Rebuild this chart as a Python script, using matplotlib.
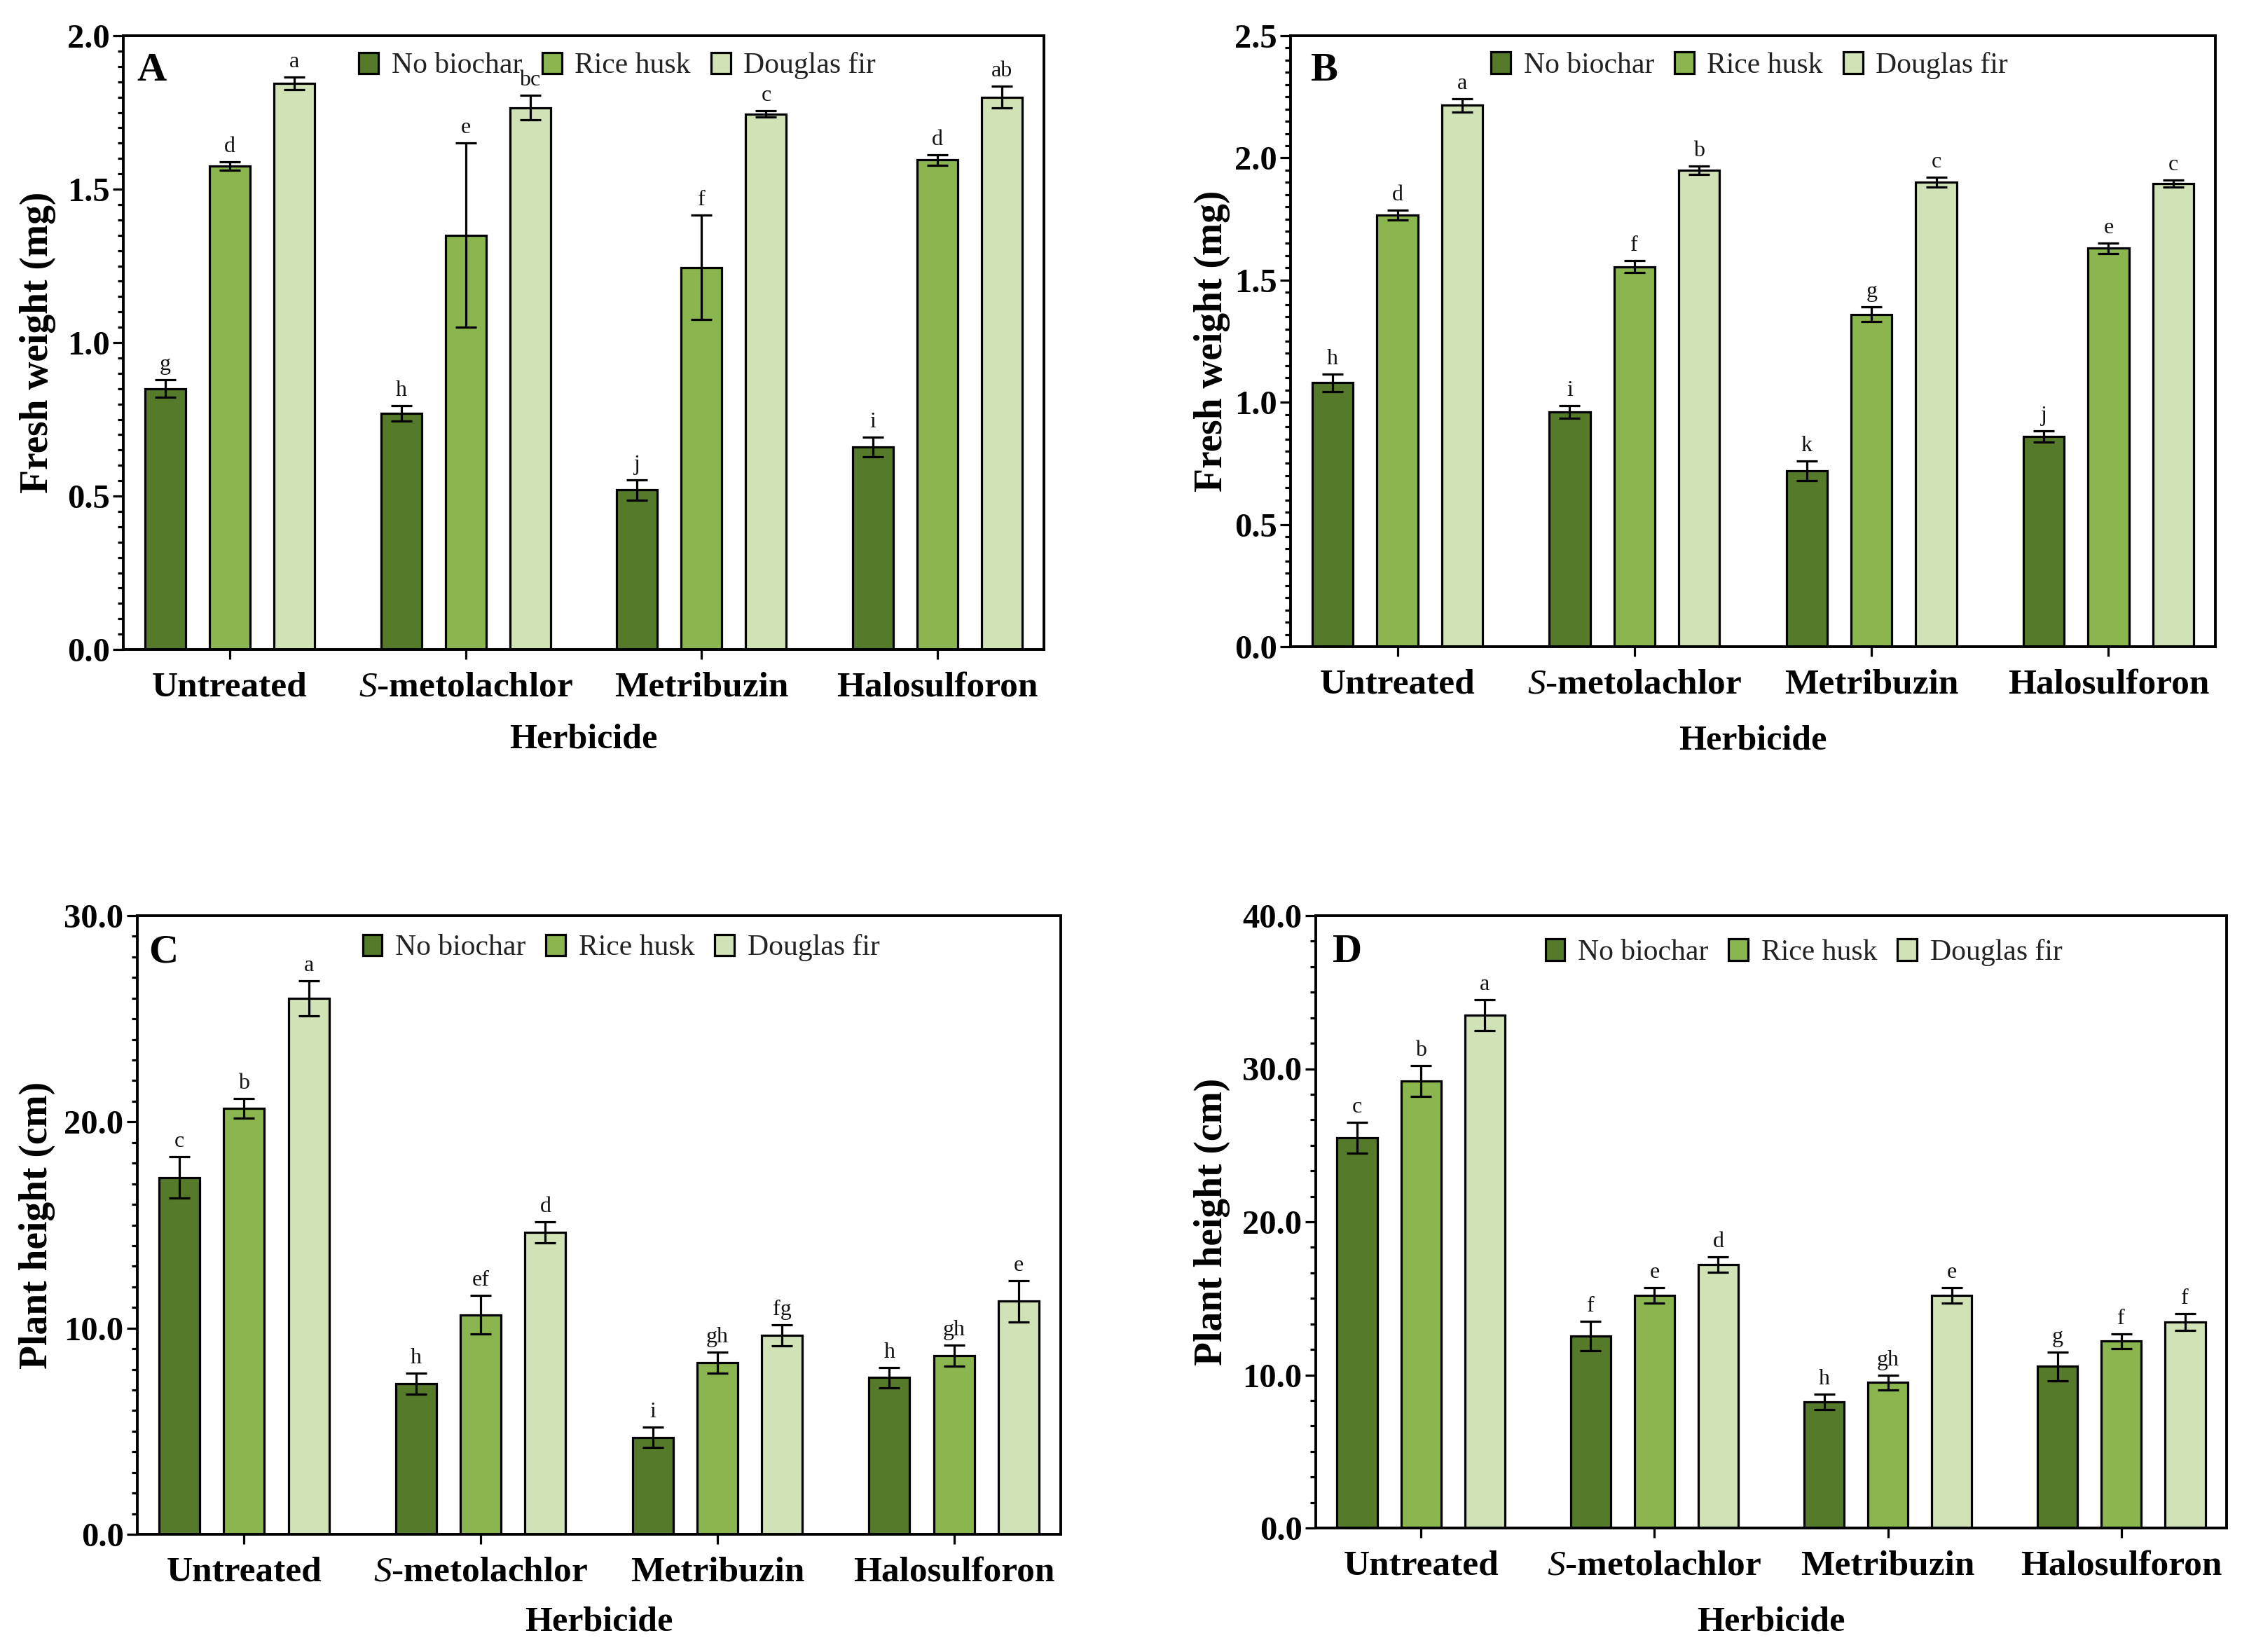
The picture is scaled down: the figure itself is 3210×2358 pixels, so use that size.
import numpy as np
import matplotlib
matplotlib.use("Agg")
import matplotlib.pyplot as plt
from matplotlib.ticker import MultipleLocator, AutoMinorLocator, FormatStrFormatter
from matplotlib.patches import Patch

plt.rcParams['font.family'] = ['Liberation Serif', 'DejaVu Serif']
plt.rcParams['mathtext.fontset'] = 'custom'
plt.rcParams['mathtext.rm'] = 'Liberation Serif:bold'
plt.rcParams['mathtext.it'] = 'Liberation Serif:italic'

# ---------------- data ----------------
herbicides = ['Untreated', r'$\mathit{S}$-metolachlor', 'Metribuzin', 'Halosulforon']
series = ['No biochar', 'Rice husk', 'Douglas fir']

# Panel A: fresh weight (mg)
A_no = [0.85, 0.77, 0.52, 0.66]
A_rice = [1.575, 1.35, 1.245, 1.595]
A_doug = [1.845, 1.765, 1.745, 1.80]
A_no_err = [0.028, 0.025, 0.033, 0.032]
A_rice_err = [0.013, 0.30, 0.17, 0.018]
A_doug_err = [0.02, 0.04, 0.01, 0.035]
A_letters = [['g', 'h', 'j', 'i'], ['d', 'e', 'f', 'd'], ['a', 'bc', 'c', 'ab']]

# Panel B: fresh weight (mg)
B_no = [1.08, 0.96, 0.72, 0.86]
B_rice = [1.765, 1.555, 1.36, 1.63]
B_doug = [2.215, 1.95, 1.90, 1.895]
B_no_err = [0.035, 0.025, 0.04, 0.022]
B_rice_err = [0.02, 0.025, 0.03, 0.022]
B_doug_err = [0.027, 0.018, 0.02, 0.014]
B_letters = [['h', 'i', 'k', 'j'], ['d', 'f', 'g', 'e'], ['a', 'b', 'c', 'c']]

# Panel C: plant height (cm)
C_no = [17.3, 7.3, 4.7, 7.6]
C_rice = [20.66, 10.65, 8.33, 8.67]
C_doug = [26.0, 14.65, 9.65, 11.3]
C_no_err = [1.0, 0.5, 0.5, 0.5]
C_rice_err = [0.48, 0.95, 0.5, 0.5]
C_doug_err = [0.85, 0.5, 0.5, 1.0]
C_letters = [['c', 'h', 'i', 'h'], ['b', 'ef', 'gh', 'gh'], ['a', 'd', 'fg', 'e']]

# Panel D: plant height (cm)
D_no = [25.5, 12.55, 8.25, 10.55]
D_rice = [29.2, 15.2, 9.5, 12.2]
D_doug = [33.5, 17.2, 15.2, 13.45]
D_no_err = [1.0, 0.95, 0.5, 0.95]
D_rice_err = [1.0, 0.5, 0.5, 0.5]
D_doug_err = [1.0, 0.5, 0.5, 0.55]
D_letters = [['c', 'f', 'h', 'g'], ['b', 'e', 'gh', 'f'], ['a', 'd', 'e', 'f']]

colors = ['#557A2A', '#8BB54F', '#D1E2B6']

# ---------------- layout ----------------
W, H = 3210, 2358
fig = plt.figure(figsize=(W / 100, H / 100), dpi=100)


def rect(l, t, r, b):
    return [l / W, 1 - b / H, (r - l) / W, (b - t) / H]


panels = [
    dict(rect=rect(176, 51, 1490, 927), label='A', ylabel='Fresh weight (mg)',
         vals=[A_no, A_rice, A_doug], errs=[A_no_err, A_rice_err, A_doug_err],
         letters=A_letters, ymax=2.0, major=0.5, nminor=10,
         leg=(0.256, 0.951), ylab_off=122, xlab_off=128, lab_off=(19, -64)),
    dict(rect=rect(1842, 51, 3162, 923), label='B', ylabel='Fresh weight (mg)',
         vals=[B_no, B_rice, B_doug], errs=[B_no_err, B_rice_err, B_doug_err],
         letters=B_letters, ymax=2.5, major=0.5, nminor=10,
         leg=(0.217, 0.951), ylab_off=112, xlab_off=135, lab_off=(28, -64)),
    dict(rect=rect(196, 1307, 1514, 2190), label='C', ylabel='Plant height (cm)',
         vals=[C_no, C_rice, C_doug], errs=[C_no_err, C_rice_err, C_doug_err],
         letters=C_letters, ymax=30.0, major=10, nminor=10,
         leg=(0.244, 0.948), ylab_off=143, xlab_off=125, lab_off=(16, -66)),
    dict(rect=rect(1878, 1307, 3178, 2181), label='D', ylabel='Plant height (cm)',
         vals=[D_no, D_rice, D_doug], errs=[D_no_err, D_rice_err, D_doug_err],
         letters=D_letters, ymax=40.0, major=10, nminor=6,
         leg=(0.252, 0.94), ylab_off=148, xlab_off=134, lab_off=(24, -66)),
]

G = 3.66
bw = 0.63
centers = np.arange(len(herbicides)) * G
lw = 2.3

for p in panels:
    ax = fig.add_axes(p['rect'])
    axw = p['rect'][2] * W
    axh = p['rect'][3] * H
    for k in range(3):
        xs = centers + (k - 1) * 1.0
        ax.bar(xs, p['vals'][k], width=bw, color=colors[k], edgecolor='black',
               linewidth=lw, zorder=2)
        ax.errorbar(xs, p['vals'][k], yerr=p['errs'][k], fmt='none', ecolor='black',
                    elinewidth=lw, capsize=11, capthick=lw, zorder=3)
        for x, v, e, t in zip(xs, p['vals'][k], p['errs'][k], p['letters'][k]):
            ax.annotate(t, xy=(x, v + e), xytext=(0, 7), textcoords='offset pixels',
                        ha='center', va='bottom', fontsize=23, color='#111111')
    ax.set_xlim(-1.65, centers[-1] + 1.65)
    ax.set_ylim(0, p['ymax'])
    ax.set_xticks(centers)
    ax.set_xticklabels(herbicides, fontsize=37, fontweight='bold')
    ax.yaxis.set_major_locator(MultipleLocator(p['major']))
    ax.yaxis.set_minor_locator(AutoMinorLocator(p['nminor']))
    ax.yaxis.set_major_formatter(FormatStrFormatter('%.1f'))
    for lbl in ax.get_yticklabels():
        lbl.set_fontsize(35)
        lbl.set_fontweight('bold')
    ax.tick_params(axis='y', which='major', length=11, width=2.3, pad=3)
    ax.tick_params(axis='y', which='minor', length=6, width=2.3)
    ax.tick_params(axis='x', which='major', length=10, width=2.3, pad=13)
    ax.tick_params(top=False, right=False)
    for s in ax.spines.values():
        s.set_linewidth(2.8)
    ax.set_ylabel(p['ylabel'], fontsize=40, fontweight='bold')
    ax.yaxis.label.set_va('center')
    ax.yaxis.set_label_coords(-p['ylab_off'] / axw, 0.5)
    ax.set_xlabel('Herbicide', fontsize=36, fontweight='bold')
    ax.xaxis.label.set_va('center')
    ax.xaxis.set_label_coords(0.5, -p['xlab_off'] / axh)
    ax.annotate(p['label'], xy=(0, 1), xycoords='axes fraction',
                xytext=p['lab_off'], textcoords='offset pixels',
                ha='left', va='baseline', fontsize=42, fontweight='bold')
    handles = [Patch(facecolor=c, edgecolor='black', linewidth=2.3) for c in colors]
    ax.legend(handles, series, loc='center left', bbox_to_anchor=p['leg'], ncol=3,
              frameon=False, fontsize=30, handlelength=0.66, handleheight=0.75,
              handletextpad=0.45, columnspacing=0.7, borderpad=0, borderaxespad=0,
              labelcolor='#222222')

fig.savefig('out.png', dpi=100)
